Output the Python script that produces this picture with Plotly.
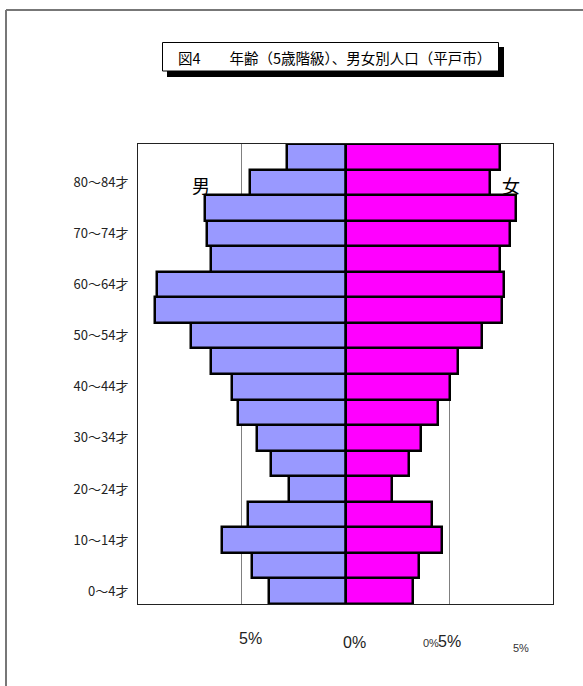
import plotly.graph_objects as go

# Age groups (5-year classes), bottom to top
age_groups = ["0～4才", "5～9才", "10～14才", "15～19才", "20～24才", "25～29才",
              "30～34才", "35～39才", "40～44才", "45～49才", "50～54才", "55～59才",
              "60～64才", "65～69才", "70～74才", "75～79才", "80～84才", "85才～"]

# Share of total population (%)
male_pct = [3.69, 4.49, 5.96, 4.68, 2.71, 3.59, 4.28, 5.18, 5.48, 6.49,
            7.47, 9.17, 9.07, 6.49, 6.68, 6.78, 4.60, 2.80]
female_pct = [3.24, 3.54, 4.66, 4.15, 2.24, 3.04, 3.65, 4.46, 5.05, 5.43,
              6.57, 7.53, 7.64, 7.45, 7.95, 8.24, 6.94, 7.45]

# Axis labels shown every other age group
shown_ticks = age_groups[0:17:2]

# Bottom scale labels (main axis and secondary small labels)
main_tick_vals = [-4.6, 0.45, 5.0]
main_tick_text = ["5%", "0%", "5%"]
main_tick_rows = [638, 642, 641]
small_tick_vals = [4.1, 8.45]
small_tick_text = ["0%", "5%"]
small_tick_rows = [643, 648]

title_text = "図4　　年齢（5歳階級）、男女別人口（平戸市）"

FONT = "Liberation Sans, Arial, Noto Sans CJK JP, sans-serif"
JP_FONT = "Noto Sans CJK JP, sans-serif"

fig = go.Figure()

fig.add_trace(go.Bar(
    y=age_groups,
    x=[-v for v in male_pct],
    customdata=male_pct,
    orientation="h",
    name="男",
    marker=dict(color="#9999FF", line=dict(color="black", width=2.5)),
    hovertemplate="%{y}: %{customdata:.2f}%<extra>男</extra>",
))
fig.add_trace(go.Bar(
    y=age_groups,
    x=female_pct,
    orientation="h",
    name="女",
    marker=dict(color="#FF00FF", line=dict(color="black", width=2.5)),
    hovertemplate="%{y}: %{x:.2f}%<extra>女</extra>",
))

W, H = 583, 686
ml, mr, mt, mb = 138, 30, 144, 82
plot_h = H - mt - mb


def py(pixel_y):
    """Convert a page pixel row to paper y."""
    return (H - mb - pixel_y) / plot_h


def px(pixel_x):
    """Convert a page pixel column to paper x."""
    return (pixel_x - ml) / (W - ml - mr)


annotations = []
for v, t, r in zip(main_tick_vals, main_tick_text, main_tick_rows):
    annotations.append(dict(x=v, y=py(r), xref="x", yref="paper", text=t,
                            showarrow=False, yanchor="middle",
                            font=dict(family=FONT, size=16, color="#222")))
for v, t, r in zip(small_tick_vals, small_tick_text, small_tick_rows):
    annotations.append(dict(x=v, y=py(r), xref="x", yref="paper", text=t,
                            showarrow=False, yanchor="middle",
                            font=dict(family=FONT, size=11, color="#333")))

annotations.append(dict(x=-6.95, y=py(185), xref="x", yref="paper", text="男",
                        showarrow=False, yanchor="middle",
                        font=dict(family=JP_FONT, size=18, color="black")))
annotations.append(dict(x=7.96, y=py(185), xref="x", yref="paper", text="女",
                        showarrow=False, yanchor="middle",
                        font=dict(family=JP_FONT, size=18, color="black")))

annotations.append(dict(x=px(334.5), y=py(57), xref="paper", yref="paper",
                        text=title_text, showarrow=False, yanchor="middle",
                        font=dict(family=JP_FONT, size=14.5, color="black")))

shapes = [
    # page frame (left and top edges)
    dict(type="line", xref="paper", yref="paper", x0=px(6), x1=px(6), y0=py(10), y1=py(690),
         line=dict(color="#777", width=2), layer="below"),
    dict(type="line", xref="paper", yref="paper", x0=px(6), x1=px(590), y0=py(10), y1=py(10),
         line=dict(color="#777", width=2), layer="below"),
    # title box shadow
    dict(type="rect", xref="paper", yref="paper", x0=px(167), x1=px(504), y0=py(77), y1=py(47),
         fillcolor="black", line=dict(width=0), layer="below"),
    # title box
    dict(type="rect", xref="paper", yref="paper", x0=px(162.5), x1=px(498.5), y0=py(71), y1=py(42.5),
         fillcolor="white", line=dict(color="black", width=1), layer="below"),
]

fig.update_layout(
    width=W, height=H,
    margin=dict(l=ml, r=mr, t=mt, b=mb),
    paper_bgcolor="white", plot_bgcolor="white",
    barmode="relative", bargap=0,
    showlegend=False,
    font=dict(family=FONT, color="#222"),
    xaxis=dict(range=[-10, 10], tickvals=[-5, 0, 5], showticklabels=False,
               showgrid=True, gridcolor="#808080", gridwidth=1, zeroline=False,
               showline=True, linecolor="#222", linewidth=1, mirror=True, ticks=""),
    yaxis=dict(type="category", categoryorder="array", categoryarray=age_groups,
               tickvals=shown_ticks, ticktext=shown_ticks, ticks="",
               ticklabelstandoff=6,
               tickfont=dict(family=JP_FONT, size=13, color="#222"),
               showgrid=False, showline=True, linecolor="#222", linewidth=1, mirror=True),
    annotations=annotations,
    shapes=shapes,
)

fig.write_html("out.html")
